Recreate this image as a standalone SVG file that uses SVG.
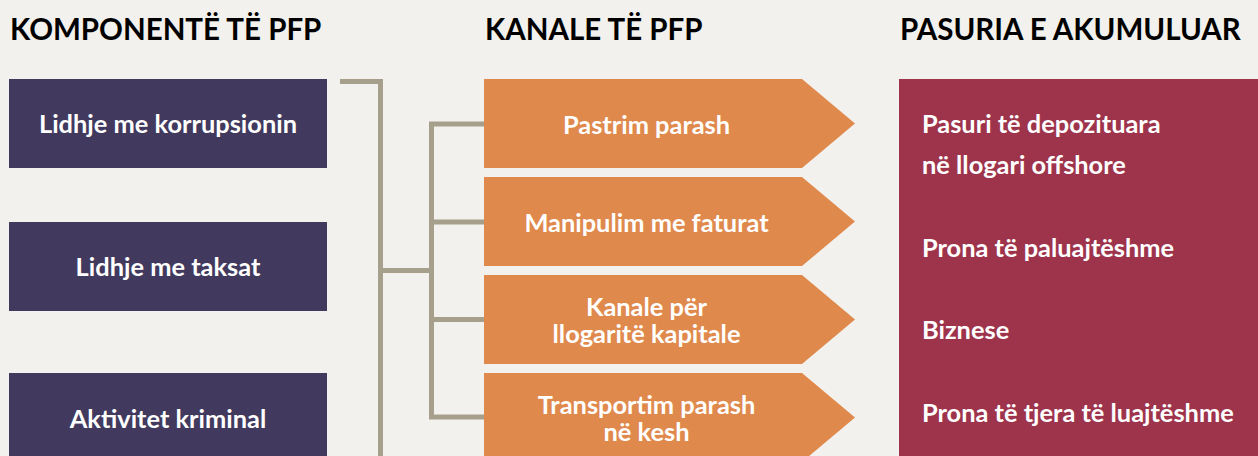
<svg xmlns="http://www.w3.org/2000/svg" width="1258" height="456" viewBox="0 0 1258 456">
<style>
  .hdr{font-family:Lato,"Open Sans","Liberation Sans",sans-serif;font-weight:700;font-size:29.5px;fill:#000}
  .t{font-family:Lato,"Open Sans","Liberation Sans",sans-serif;font-weight:700;font-size:25.4px;fill:#fff}
  .c{text-anchor:middle}
  .comp{fill:#413a5e}
  .chan{fill:#e0894d}
  .asset{fill:#9e344c}
  .conn{fill:none;stroke:#a69f8b;stroke-width:5}
</style>
<rect width="1258" height="456" fill="#f2f1ed"/>
<g id="headers">
  <text class="hdr" x="10" y="40">KOMPONENTË TË PFP</text>
  <text class="hdr" x="485" y="40">KANALE TË PFP</text>
  <text class="hdr" x="900" y="40">PASURIA E AKUMULUAR</text>
</g>
<g id="connectors">
  <polyline class="conn" points="340,81.5 380.5,81.5 380.5,456"/>
  <line class="conn" x1="380.5" y1="270.5" x2="431.5" y2="270.5"/>
  <polyline class="conn" points="484,124 431.5,124 431.5,417 484,417"/>
  <line class="conn" x1="431.5" y1="222" x2="484" y2="222"/>
  <line class="conn" x1="431.5" y1="319.5" x2="484" y2="319.5"/>
</g>
<g id="comp1"><rect class="comp" x="9" y="79" width="318" height="89"/><text class="t c" x="168" y="133">Lidhje me korrupsionin</text></g>
<g id="comp2"><rect class="comp" x="9" y="222" width="318" height="89"/><text class="t c" x="168" y="276">Lidhje me taksat</text></g>
<g id="comp3"><rect class="comp" x="9" y="373" width="318" height="90"/><text class="t c" x="168" y="428">Aktivitet kriminal</text></g>
<g id="chan1"><polygon class="chan" points="484,79 802,79 855,123.5 802,168 484,168"/><text class="t c" x="646.5" y="134">Pastrim parash</text></g>
<g id="chan2"><polygon class="chan" points="484,177 802,177 855,221.5 802,266 484,266"/><text class="t c" x="646.5" y="232">Manipulim me faturat</text></g>
<g id="chan3"><polygon class="chan" points="484,275 802,275 855,319.5 802,364 484,364"/><text class="t c" x="646.5" y="316">Kanale për</text><text class="t c" x="646.5" y="343">llogaritë kapitale</text></g>
<g id="chan4"><polygon class="chan" points="484,373 802,373 855,417.5 802,462 484,462"/><text class="t c" x="646.5" y="414">Transportim parash</text><text class="t c" x="646.5" y="441">në kesh</text></g>
<g id="assets">
  <rect class="asset" x="899" y="79" width="359" height="377"/>
  <text class="t" x="922" y="133">Pasuri të depozituara</text>
  <text class="t" x="922" y="174">në llogari offshore</text>
  <text class="t" x="922" y="257">Prona të paluajtëshme</text>
  <text class="t" x="922" y="339">Biznese</text>
  <text class="t" x="922" y="422">Prona të tjera të luajtëshme</text>
</g>
</svg>
